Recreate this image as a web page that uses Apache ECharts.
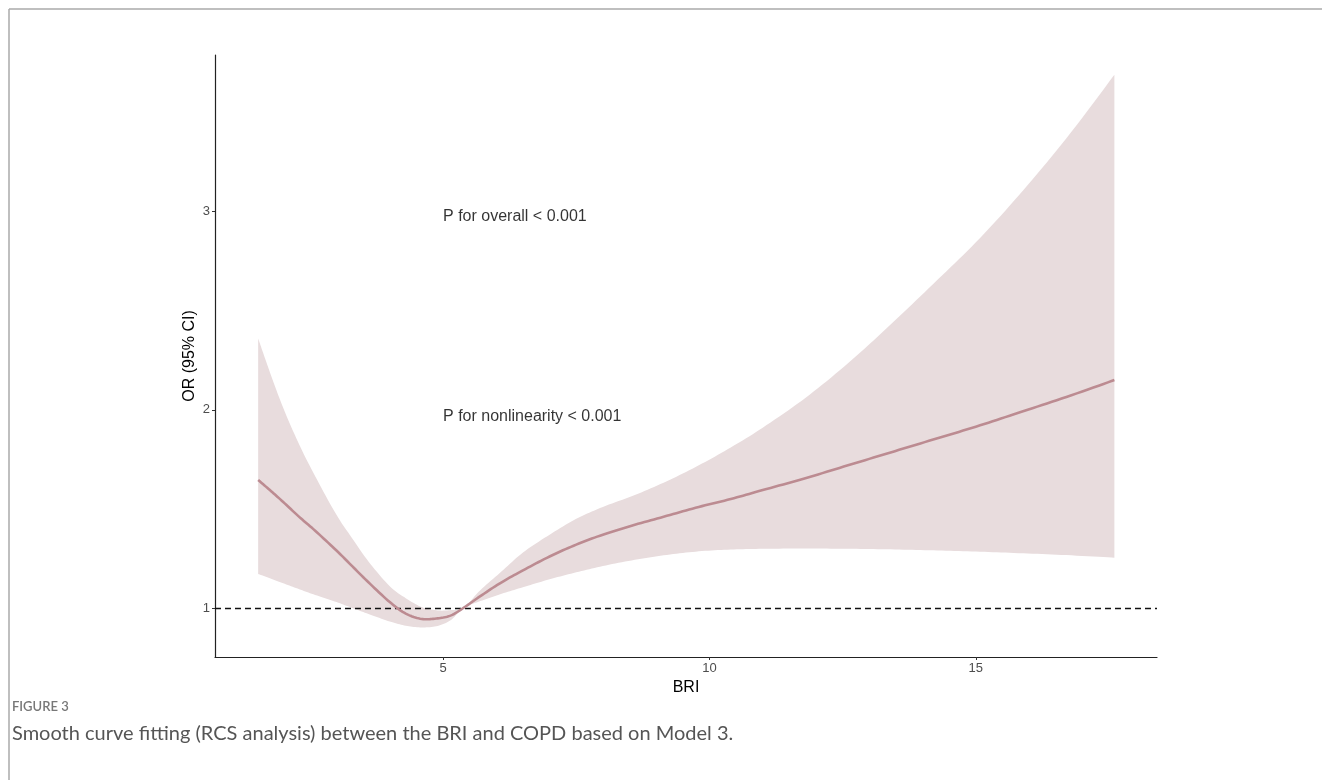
<!DOCTYPE html>
<html>
<head>
<meta charset="utf-8">
<script src="https://cdn.jsdelivr.net/npm/echarts@6/dist/echarts.min.js"></script>
<style>
html,body{margin:0;padding:0;background:#fff;}
#chart{width:1322px;height:780px;}
</style>
</head>
<body>
<div id="chart"></div>
<script>
// ---- data ----
const bri      = [1.53, 1.75, 2.0, 2.3, 2.6, 3.0, 3.3, 3.6, 4.0, 4.3, 4.6, 4.9, 5.15, 5.38, 5.7, 6.1, 6.5, 7.0, 7.5, 8.0, 8.6, 9.2, 9.8, 10.4, 11.0, 11.8, 12.6, 13.4, 14.2, 15.0, 15.8, 16.7, 17.6];
const orFit    = [1.646, 1.595, 1.535, 1.46, 1.39, 1.29, 1.21, 1.13, 1.03, 0.972, 0.945, 0.948, 0.963, 1.0, 1.06, 1.13, 1.19, 1.26, 1.32, 1.37, 1.42, 1.465, 1.51, 1.55, 1.595, 1.655, 1.72, 1.785, 1.85, 1.915, 1.985, 2.065, 2.15];
const ciLower  = [1.172, 1.15, 1.125, 1.095, 1.066, 1.03, 1.0, 0.97, 0.932, 0.911, 0.902, 0.91, 0.94, 1.0, 1.035, 1.072, 1.105, 1.145, 1.18, 1.212, 1.243, 1.268, 1.286, 1.295, 1.299, 1.30, 1.299, 1.296, 1.291, 1.285, 1.277, 1.267, 1.254];
const ciUpper  = [2.36, 2.19, 2.01, 1.825, 1.665, 1.47, 1.35, 1.235, 1.11, 1.05, 1.005, 0.988, 0.99, 1.0, 1.09, 1.185, 1.28, 1.37, 1.45, 1.51, 1.57, 1.64, 1.72, 1.81, 1.91, 2.06, 2.235, 2.43, 2.635, 2.845, 3.08, 3.37, 3.69];
const xTicks   = [5, 10, 15];
const yTicks   = [1, 2, 3];
const refOR    = 1;
const annoText = ['P for overall < 0.001', 'P for nonlinearity < 0.001'];
const annoX    = [5, 5];
const annoY    = [2.975, 1.965];
const xName    = 'BRI';
const yName    = 'OR (95% CI)';
const figLabel = 'FIGURE 3';
const caption  = 'Smooth curve fitting (RCS analysis) between the BRI and COPD based on Model 3.';

// ---- helpers: Catmull-Rom smoothing of pixel points (rendering only) ----
function smoothPts(pts, seg) {
  const out = [];
  for (let i = 0; i < pts.length - 1; i++) {
    const p0 = pts[Math.max(i - 1, 0)], p1 = pts[i], p2 = pts[i + 1], p3 = pts[Math.min(i + 2, pts.length - 1)];
    for (let s = 0; s < seg; s++) {
      const t = s / seg, t2 = t * t, t3 = t2 * t;
      out.push([0, 1].map(k => 0.5 * ((2 * p1[k]) + (-p0[k] + p2[k]) * t +
        (2 * p0[k] - 5 * p1[k] + 4 * p2[k] - p3[k]) * t2 +
        (-p0[k] + 3 * p1[k] - 3 * p2[k] + p3[k]) * t3)));
    }
  }
  out.push(pts[pts.length - 1]);
  return out;
}

// ---- chart ----
const chart = echarts.init(document.getElementById('chart'), null, {renderer: 'canvas'});
const axisFont = 'Liberation Sans, Arial, sans-serif';
const bandColor = '#e8dcdd';
const lineColor = '#bc8b91';

const option = {
  animation: false,
  backgroundColor: '#fff',
  grid: {left: 215, right: 165, top: 55, bottom: 123, containLabel: false},
  xAxis: {
    type: 'value', min: 0.72, max: 18.4,
    name: xName, nameLocation: 'middle', nameGap: 23, nameMoveOverlap: false,
    nameTextStyle: {fontFamily: axisFont, fontSize: 16, color: '#000'},
    axisLine: {show: true, onZero: false, lineStyle: {color: '#222', width: 1.2}},
    axisTick: {show: true, length: 3, customValues: xTicks, lineStyle: {color: '#333'}},
    axisLabel: {customValues: xTicks, fontFamily: axisFont, fontSize: 13, color: '#4d4d4d', margin: 5},
    splitLine: {show: false}
  },
  yAxis: {
    type: 'value', min: 0.753, max: 3.79,
    name: yName, nameLocation: 'middle', nameGap: 17, nameRotate: 90, nameMoveOverlap: false,
    nameTextStyle: {fontFamily: axisFont, fontSize: 16, color: '#000'},
    axisLine: {show: true, onZero: false, lineStyle: {color: '#222', width: 1.2}},
    axisTick: {show: true, length: 3, customValues: yTicks, lineStyle: {color: '#333'}},
    axisLabel: {customValues: yTicks, fontFamily: axisFont, fontSize: 13, color: '#4d4d4d', margin: 5},
    splitLine: {show: false}
  },
  series: [
    {
      name: 'band', type: 'custom', silent: true, z: 1,
      data: [[bri[0], ciLower[0]]],
      renderItem: function (params, api) {
        const up = smoothPts(bri.map((x, i) => api.coord([x, ciUpper[i]])), 10);
        const lo = smoothPts(bri.map((x, i) => api.coord([x, ciLower[i]])), 10);
        return {
          type: 'polygon',
          shape: {points: up.concat(lo.reverse())},
          style: {fill: bandColor, stroke: null}
        };
      }
    },
    {
      name: 'fit', type: 'custom', silent: true, z: 5,
      data: [[bri[0], orFit[0]]],
      renderItem: function (params, api) {
        const pts = smoothPts(bri.map((x, i) => api.coord([x, orFit[i]])), 10);
        return {
          type: 'polyline',
          shape: {points: pts},
          style: {stroke: lineColor, lineWidth: 2.6, fill: null, lineJoin: 'round', lineCap: 'butt'}
        };
      }
    },
    {
      name: 'ref', type: 'line', symbol: 'none', data: [], z: 4,
      markLine: {
        silent: true, symbol: 'none', label: {show: false},
        lineStyle: {type: [6, 4], color: '#111', width: 1.3},
        data: [{yAxis: refOR}]
      }
    },
    {
      name: 'anno', type: 'scatter', symbolSize: 0,
      data: annoX.map((x, i) => ({value: [x, annoY[i]], name: annoText[i]})),
      label: {
        show: true, position: [0, 0], align: 'left', verticalAlign: 'middle',
        formatter: p => p.name,
        fontFamily: axisFont, fontSize: 16, color: '#000'
      },
      silent: true, z: 6
    }
  ],
  graphic: [
    {type: 'line', shape: {x1: 9, y1: 9, x2: 1322, y2: 9}, style: {stroke: '#aaaaaa', lineWidth: 1.5}},
    {type: 'line', shape: {x1: 9, y1: 9, x2: 9, y2: 780}, style: {stroke: '#aaaaaa', lineWidth: 1.5}},
    {type: 'text', left: 12, top: 700, style: {text: figLabel, font: '600 13px Lato, "Open Sans", sans-serif', fill: '#777'}},
    {type: 'text', left: 12, top: 724, style: {text: caption, font: '20px Lato, "Open Sans", sans-serif', fill: '#555'}}
  ]
};
chart.setOption(option);
</script>
</body>
</html>
